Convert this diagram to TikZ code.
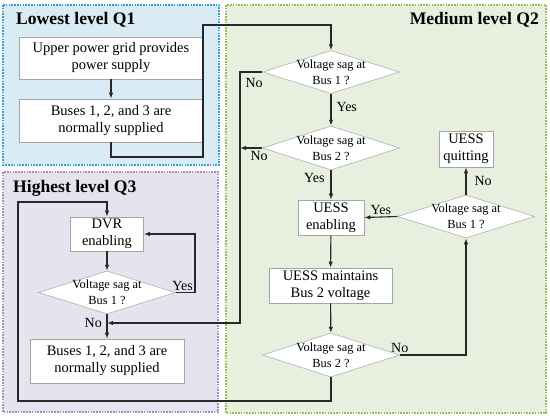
\documentclass[tikz,border=0pt]{standalone}
\usepackage{fontspec}
\setmainfont{Liberation Serif}
\usetikzlibrary{shapes.geometric,arrows.meta,calc}
\definecolor{lowfill}{RGB}{217,235,244}
\definecolor{lowline}{RGB}{52,160,216}
\definecolor{midfill}{RGB}{231,239,222}
\definecolor{midline}{RGB}{146,190,84}
\definecolor{highfill}{RGB}{231,227,238}
\definecolor{highline}{RGB}{160,140,200}
\definecolor{boxline}{RGB}{165,165,165}
\definecolor{flowline}{RGB}{40,40,40}
\tikzset{
  box/.style={draw=boxline,fill=white,line width=0.6pt,align=center,inner sep=1pt,
    font=\fontsize{14.5}{17}\selectfont},
  dec/.style={diamond,draw=boxline,fill=white,line width=0.5pt,
    minimum width=137pt,minimum height=43pt,inner sep=0pt},
  dtxt/.style={align=center,inner sep=0pt,font=\fontsize{12.4}{16}\selectfont},
  lab/.style={inner sep=2pt,font=\fontsize{14}{16}\selectfont},
  flow/.style={draw=flowline,line width=1.1pt,-{Latex[length=6pt,width=4.5pt]}},
  level/.style={line width=1.3pt,dash pattern=on 1.6pt off 1.2pt},
  title/.style={inner sep=0pt,font=\fontsize{17.6}{20}\selectfont\bfseries}
}
\begin{document}
\begin{tikzpicture}[x=1pt,y=-1pt]
\useasboundingbox (0,0) rectangle (550,418);
% levels
\draw[level,draw=lowline,fill=lowfill] (3,5) rectangle (219,165);
\draw[level,draw=highline,fill=highfill] (3,172) rectangle (218,412);
\draw[level,draw=midline,fill=midfill] (226,5) rectangle (546,413);
\node[title,anchor=west] (q1) at (16,20) {Lowest level Q1};
\node[title,anchor=west] (q3) at (13,188) {Highest level Q3};
\node[title,anchor=east] (q2) at (539,20) {Medium level Q2};
% Q1
\node[box,minimum width=184pt,minimum height=42pt] (grid) at (111,58) {Upper power grid provides\\power supply};
\node[box,minimum width=184pt,minimum height=43pt] (bus) at (111,120.5) {Buses 1, 2, and 3 are\\normally supplied};
% Q2
\node[dec,label={[dtxt,name=d1t]center:{Voltage sag at\\Bus 1 ?}}] (d1) at (331,72) {};
\node[dec,minimum height=44pt,label={[dtxt,name=d2t]center:{Voltage sag at\\Bus 2 ?}}] (d2) at (331,148) {};
\node[box,minimum width=66pt,minimum height=35pt] (uon) at (331,217.5) {UESS\\enabling};
\node[box,minimum width=123pt,minimum height=35pt] (keep) at (330.5,285.5) {UESS maintains\\Bus 2 voltage};
\node[dec,minimum height=44pt,label={[dtxt,name=d3t]center:{Voltage sag at\\Bus 2 ?}}] (d3) at (331,355) {};
\node[dec,label={[dtxt,name=d4t]center:{Voltage sag at\\Bus 1 ?}}] (d4) at (466,216.5) {};
\node[box,minimum width=54pt,minimum height=36pt] (uoff) at (466,149) {UESS\\quitting};
% Q3
\node[box,minimum width=73pt,minimum height=34pt] (dvr) at (107,234) {DVR\\enabling};
\node[dec,label={[dtxt,name=d5t]center:{Voltage sag at\\Bus 1 ?}}] (d5) at (107,292.5) {};
\node[box,minimum width=154pt,minimum height=44pt] (norm) at (107,361) {Buses 1, 2, and 3 are\\normally supplied};
% bends
\coordinate (k1) at (203,157);
\coordinate (k2) at (203,25);
\coordinate (n1) at (240,323);
\coordinate (n2) at (240,148);
\coordinate (b1) at (18,401);
\coordinate (b2) at (18,202);
\coordinate (y1) at (195,234);
% flow
\draw[flow] (grid) -- (bus);
\draw[flow] (bus.south) |- (k1) -- (k2) -| (d1.north);
\draw[flow] (d1.west) node[lab,below left,xshift=3pt,yshift=-4pt] (no1) {No} -| (n1) -- (n1 -| d5.south);
\draw[flow] (d1.south) -- node[lab,right,pos=0.4,xshift=3pt] (yes1) {Yes} (d2.north);
\draw[flow] (d2.west) node[lab,below left,xshift=8pt,yshift=-1pt] (no2) {No} -- (n2);
\draw[flow] (d2.south) -- node[lab,left,pos=0.27,xshift=-4pt] (yes2) {Yes} (uon.north);
\draw[flow] (uon) -- (keep);
\draw[flow] (keep) -- (d3);
\draw[flow] (d3.east) node[lab,above] (no3) {No} -| (d4.south);
\draw[flow] (d4.west) -- node[lab,above] (yes4) {Yes} (uon.east);
\draw[flow] (d4.north) -- node[lab,right,xshift=6pt] (no4) {No} (uoff.south);
\draw[flow] (d3.south) |- (b1) -- (b2) -| (dvr.north);
\draw[flow] (dvr) -- (d5);
\draw[flow] (d5.east) -| (y1) -- (dvr.east);
\node[lab,above left] (yes5) at (y1 |- d5.east) {Yes};
\draw[flow] (d5.south) -- (norm.north);
\node[lab,left,xshift=-3pt] (no5) at (n1 -| d5.south) {No};
\end{tikzpicture}
\end{document}
